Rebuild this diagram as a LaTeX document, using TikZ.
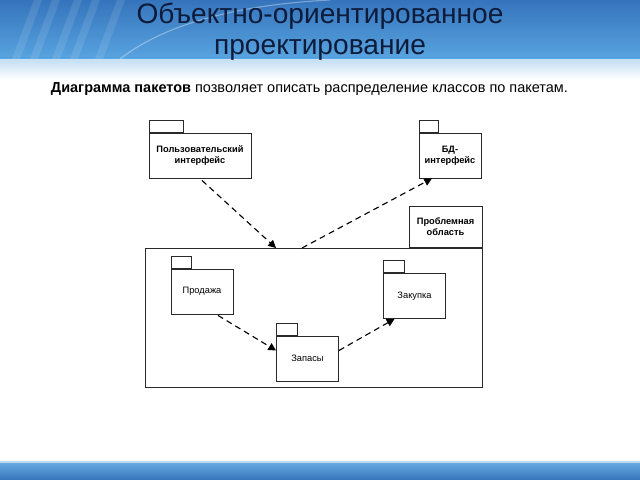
\documentclass[tikz,border=0pt]{standalone}
\usepackage{fontspec}
\setmainfont{Liberation Sans}
\usepackage{tikz}
\usetikzlibrary{arrows.meta}
\usetikzlibrary{positioning,calc}
\definecolor{headtop}{HTML}{3574BC}
\definecolor{headbot}{HTML}{58A4E0}
\definecolor{titletext}{HTML}{0E1B3A}
\definecolor{edgegray}{HTML}{2A2A2A}
\tikzset{
    pkg/.style={
        draw=edgegray,
        line width=0.6pt,
        fill=white,
        minimum width=1.55cm,
        minimum height=1.125cm,
        inner sep=1pt,
        align=center,
        font=\fontsize{6.6}{8}\selectfont
    },
    pkgtab/.style={
        draw=edgegray,
        line width=0.6pt,
        fill=white,
        minimum width=0.52cm,
        minimum height=0.3cm,
        inner sep=0pt,
        anchor=south west
    },
    dep/.style={
        draw=black,
        line width=0.8pt,
        dash pattern=on 4.2pt off 3pt,
        -{Triangle[length=5.5pt, width=5.5pt]}
    }
}

\begin{document}
\begin{tikzpicture}[x=0.025cm, y=-0.025cm]
    \useasboundingbox (0,0) rectangle (640,480);

    % Header and footer bands
    \shade[top color=headtop, bottom color=headbot] (0,0) rectangle (640,59);
    \foreach \x in {12,30,52,70,95}
        \fill[white, opacity=0.10] (\x,59) -- (\x+8,59) -- (\x+30,0) -- (\x+22,0) -- cycle;
    \draw[white, opacity=0.35, line width=0.8pt] (120,59) .. controls (170,20) and (250,4) .. (330,0);
    \shade[top color=headbot!35, bottom color=white] (0,60) rectangle (640,79);
    \draw[white!70!headbot, line width=0.8pt] (0,59.5) -- (640,59.5);
    \shade[top color=headbot!90!white, bottom color=headtop] (0,462) rectangle (640,480);
    \draw[white!60!headbot, line width=0.8pt] (0,462) -- (640,462);

    % Title and caption
    \node[font=\fontsize{20}{22}\selectfont, text=titletext, align=center] (title) at (320,32)
        {Объектно-ориентированное\\проектирование};
    \node[font=\fontsize{10.3}{12}\selectfont, anchor=base west] (caption) at (46,92)
        {\textbf{Диаграмма пакетов} позволяет описать распределение классов по пакетам.};

    % Outer packages
    \node[pkg, minimum width=2.55cm, font=\fontsize{6.6}{8}\selectfont\bfseries] (ui) at (200,155.5)
        {Пользовательский\\интерфейс};
    \node[pkgtab, minimum width=0.85cm] (ui tab) at (ui.north west) {};
    \node[pkg, font=\fontsize{6.6}{8}\selectfont\bfseries] (db) at (450,155.5) {БД-\\интерфейс};
    \node[pkgtab, minimum width=0.48cm] (db tab) at (db.north west) {};

    % Domain package
    \node[pkg, minimum width=8.425cm, minimum height=3.475cm] (domain) at (313.5,317.5) {};
    \node[pkg, anchor=south east, minimum width=1.825cm, minimum height=1.025cm,
        font=\fontsize{6.6}{8}\selectfont\bfseries] (domain tab) at (domain.north east)
        {Проблемная\\область};

    % Inner packages
    \node[pkg] (sale) at (202,291.5) {Продажа};
    \node[pkgtab] (sale tab) at (sale.north west) {};
    \node[pkg] (buy) at (414.5,296) {Закупка};
    \node[pkgtab] (buy tab) at (buy.north west) {};
    \node[pkg] (stock) at (307.5,358.5) {Запасы};
    \node[pkgtab] (stock tab) at (stock.north west) {};

    % Dependencies
    \coordinate (into) at (276,248);
    \coordinate (outof) at (302,248);
    \draw[dep] ($(ui.south)+(2,2)$) -- (into);
    \draw[dep] (outof) -- ($(db.south)+(-18,0)$);
    \draw[dep] ($(sale.south)+(16,1)$) -- ($(stock.west)+(0,-8)$);
    \draw[dep] ($(stock.east)+(0,-8)$) -- ($(buy.south)+(-20,0)$);
\end{tikzpicture}
\end{document}
